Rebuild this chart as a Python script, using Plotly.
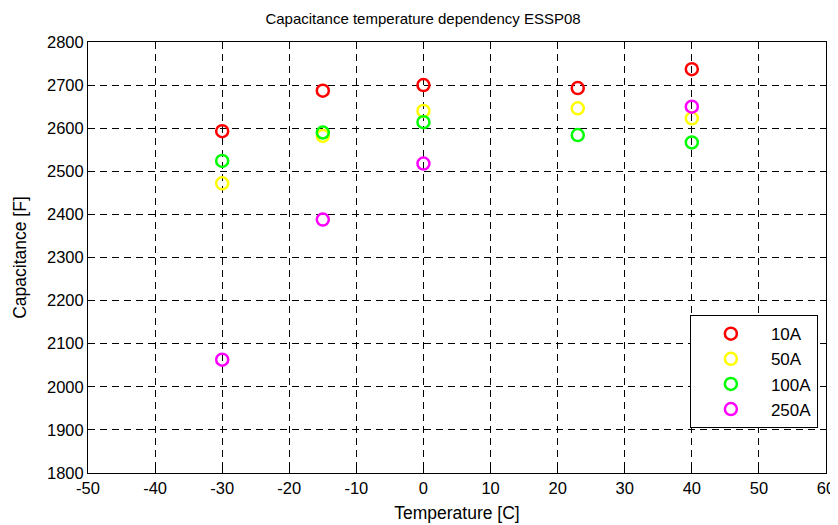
import plotly.graph_objects as go

temps = [-30, -15, 0, 23, 40]
cap_10A = [2593, 2687, 2700, 2693, 2737]
cap_50A = [2472, 2582, 2640, 2646, 2623]
cap_100A = [2524, 2590, 2614, 2584, 2567]
cap_250A = [2063, 2388, 2518, None, 2650]

series = [("10A", cap_10A, "#ff0000"), ("50A", cap_50A, "#ffff00"),
          ("100A", cap_100A, "#00ff00"), ("250A", cap_250A, "#ff00ff")]

x_ticks = [-50, -40, -30, -20, -10, 0, 10, 20, 30, 40, 50, 60]
x_tick_labels = ["-50", "-40", "-30", "-20", "-10", "0", "10", "20", "30", "40", "50", "60"]
y_ticks = [1800, 1900, 2000, 2100, 2200, 2300, 2400, 2500, 2600, 2700, 2800]

fig = go.Figure()
for name, vals, col in series:
    fig.add_trace(go.Scatter(x=temps, y=vals, mode="markers", name=name,
                             marker=dict(symbol="circle-open", size=12, color=col,
                                         line=dict(width=2.5, color=col))))

font = "Liberation Sans, Arial, sans-serif"
axis_common = dict(showline=True, linecolor="black", linewidth=1, mirror="ticks",
                   ticks="inside", ticklen=6, tickcolor="black",
                   showgrid=True, gridcolor="black", griddash="7px,5px", gridwidth=1,
                   zeroline=False, automargin=False,
                   tickfont=dict(size=16.5, color="black", family=font))

fig.update_layout(
    width=830, height=517,
    paper_bgcolor="white", plot_bgcolor="white",
    margin=dict(l=80, r=12, t=34, b=52),
    title=dict(text="Capacitance temperature dependency ESSP08", x=0.5, xanchor="center",
               xref="container", y=0.979, yanchor="middle",
               font=dict(size=15, color="black", family=font)),
    font=dict(family=font, color="black"),
    xaxis=dict(range=[-50, 60], tickvals=x_ticks, ticktext=x_tick_labels,
               title=dict(text="Temperature [C]", font=dict(size=17.5), standoff=10), **axis_common),
    yaxis=dict(range=[1800, 2800], tickvals=y_ticks,
               title=dict(text="Capacitance [F]", font=dict(size=17.5), standoff=15), **axis_common),
    legend=dict(x=0.989, y=0.104, xanchor="right", yanchor="bottom",
                bgcolor="white", bordercolor="black", borderwidth=1,
                font=dict(size=17, color="black"), itemwidth=70),
    showlegend=True,
)

fig.write_html("out.html")
